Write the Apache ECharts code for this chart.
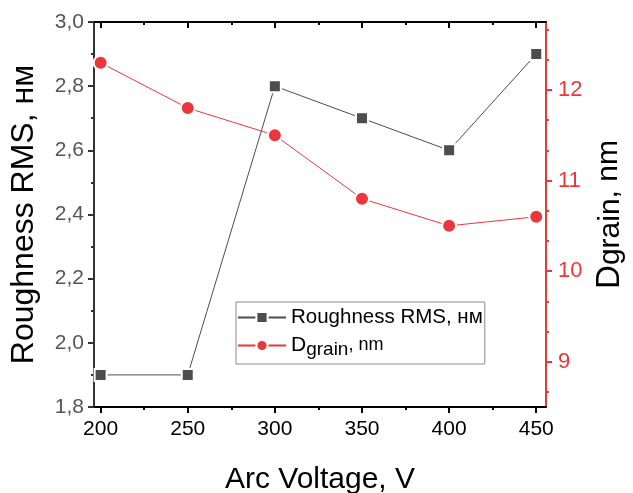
<!DOCTYPE html>
<html>
<head>
<meta charset="utf-8">
<script src="https://cdn.jsdelivr.net/npm/echarts@6/dist/echarts.min.js"></script>
<style>html,body{margin:0;padding:0;background:#fff;}#c{width:633px;height:493px;}</style>
</head>
<body>
<div id="c"></div>
<script>
var voltages = [200, 250, 300, 350, 400, 450];
var roughness = [1.9, 1.9, 2.8, 2.7, 2.6, 2.9];
var dgrain = [12.3, 11.8, 11.5, 10.8, 10.5, 10.6];
var xMajorTicks = [200, 250, 300, 350, 400, 450];
var xMinorTicks = [225, 275, 325, 375, 425];
var rightMajorTicks = [9, 10, 11, 12];
var rightMinorTicks = [8.667, 9.333, 9.667, 10.333, 10.667, 11.333, 11.667, 12.333, 12.667];
var nameRough = 'Roughness RMS, нм';
var nameGrain = 'Dgrain, nm';

var RED = '#e9373b';
var GRAY = '#4d4d4d';
var FONT = 'Liberation Sans, Arial, sans-serif';

var chart = echarts.init(document.getElementById('c'), null, {renderer: 'canvas'});

function xAx(pos, ticks, len, inside, showLine, extra) {
  var o = {
    type: 'value', position: pos, min: 196.2, max: 455.6, offset: 0,
    axisLine: {show: showLine, onZero: false, lineStyle: {color: '#000', width: 2}},
    axisTick: {show: true, inside: inside, length: len, customValues: ticks, lineStyle: {color: '#000', width: 2}},
    axisLabel: {show: false},
    splitLine: {show: false}
  };
  for (var k in extra) o[k] = extra[k];
  return o;
}

var option = {
  animation: false,
  textStyle: {fontFamily: FONT},
  grid: {left: 94, right: 87, top: 22, bottom: 86, containLabel: false, outerBoundsMode: 'none'},
  legend: {
    left: 236, top: 302, orient: 'vertical',
    data: [nameRough, nameGrain],
    itemWidth: 48, itemHeight: 14, itemGap: 7,
    padding: [5, 2, 5, 1],
    borderColor: '#8c8c8c', borderWidth: 1, borderRadius: 0,
    backgroundColor: '#fff',
    textStyle: {
      fontSize: 21, color: '#000', fontFamily: FONT,
      rich: {
        r: {fontSize: 20.5, color: '#000', fontFamily: FONT},
        d: {fontSize: 21, color: '#000', fontFamily: FONT},
        s: {fontSize: 19, color: '#000', fontFamily: FONT, padding: [8, 0, 0, 0]},
        n: {fontSize: 18, color: '#000', fontFamily: FONT}
      }
    },
    formatter: function (name) {
      if (name === nameGrain) return '{d|D}{s|grain}{n|, nm}';
      return '{r|' + name + '}';
    }
  },
  xAxis: [
    xAx('bottom', xMajorTicks, 6, false, true, {
      axisLabel: {show: true, customValues: xMajorTicks, fontSize: 21, color: '#000', margin: 12, fontFamily: FONT},
      name: 'Arc Voltage, V', nameLocation: 'middle', nameGap: 58,
      nameTextStyle: {fontSize: 30, color: '#000', fontFamily: FONT}
    }),
    xAx('bottom', xMinorTicks, 3, false, false, {}),
    xAx('top', xMajorTicks, 6, true, true, {}),
    xAx('top', xMinorTicks, 3, true, false, {})
  ],
  yAxis: [
    {
      type: 'value', position: 'left', min: 1.8, max: 3.0, interval: 0.2, offset: 0,
      axisLine: {show: true, onZero: false, lineStyle: {color: '#333', width: 2}},
      axisTick: {show: true, length: 6, lineStyle: {color: '#333', width: 2}},
      minorTick: {show: true, splitNumber: 2, length: 3, lineStyle: {color: '#333', width: 2}},
      axisLabel: {fontSize: 21, color: '#555', margin: 10, fontFamily: FONT,
        formatter: function (v) { return v.toFixed(1).replace('.', ','); }},
      splitLine: {show: false},
      name: nameRough, nameLocation: 'middle', nameGap: 54,
      nameTextStyle: {fontSize: 32, color: '#000', fontFamily: FONT}
    },
    {
      type: 'value', position: 'right', min: 8.5, max: 12.75, offset: 0,
      axisLine: {show: true, onZero: false, lineStyle: {color: RED, width: 2}},
      axisTick: {show: true, length: 6, customValues: rightMajorTicks, lineStyle: {color: RED, width: 2}},
      axisLabel: {customValues: rightMajorTicks, fontSize: 22, color: RED, margin: 12, fontFamily: FONT},
      splitLine: {show: false},
      name: '{d|D}{s|grain}{n|, nm}', nameLocation: 'middle', nameGap: 43,
      nameTextStyle: {
        fontSize: 31, color: '#000', fontFamily: FONT,
        rich: {
          d: {fontSize: 33, color: '#000', fontFamily: FONT},
          s: {fontSize: 30, color: '#000', fontFamily: FONT},
          n: {fontSize: 30, color: '#000', fontFamily: FONT, padding: [0, 0, 4, 0]}
        }
      }
    },
    {
      type: 'value', position: 'right', min: 8.5, max: 12.75, offset: 0,
      axisLine: {show: false},
      axisTick: {show: true, length: 3, customValues: rightMinorTicks, lineStyle: {color: RED, width: 2}},
      axisLabel: {show: false},
      splitLine: {show: false}
    }
  ],
  series: [
    {
      name: nameRough, type: 'line', xAxisIndex: 0, yAxisIndex: 0,
      data: voltages.map(function (v, i) { return [v, roughness[i]]; }),
      symbol: 'rect', symbolSize: 12,
      itemStyle: {color: GRAY, borderColor: '#fff', borderWidth: 2},
      lineStyle: {color: GRAY, width: 1}
    },
    {
      name: nameGrain, type: 'line', xAxisIndex: 0, yAxisIndex: 1,
      data: voltages.map(function (v, i) { return [v, dgrain[i]]; }),
      symbol: 'circle', symbolSize: 14,
      itemStyle: {color: RED, borderColor: '#fff', borderWidth: 2},
      lineStyle: {color: RED, width: 1}
    }
  ]
};
chart.setOption(option);
</script>
</body>
</html>
